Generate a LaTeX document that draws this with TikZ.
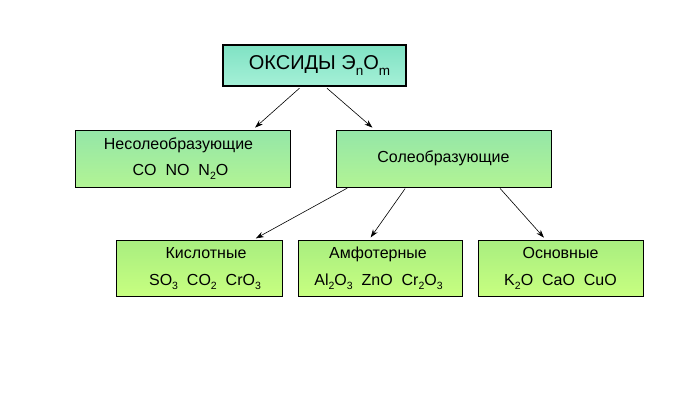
\documentclass[tikz,border=0pt]{standalone}
\usepackage{fontspec}
\setmainfont{Liberation Sans}
\usetikzlibrary{arrows.meta,calc}
\newcommand\lowsub[1]{\raisebox{-4pt}{\fontsize{10.5}{11}\selectfont #1}}
\newcommand\topsub[1]{\raisebox{-5.5pt}{\fontsize{13.5}{14}\selectfont #1}}
\newcommand\nudge[1]{\hspace*{#1}}
\definecolor{aquaA}{RGB}{128,226,196}
\definecolor{aquaB}{RGB}{165,240,215}
\definecolor{midA}{RGB}{148,230,168}
\definecolor{midB}{RGB}{178,244,148}
\definecolor{lowA}{RGB}{168,238,128}
\definecolor{lowB}{RGB}{200,255,128}
\tikzset{
  topbox/.style={draw=black, line width=2.4pt, top color=aquaA, bottom color=aquaB,
    minimum width=183pt, minimum height=41pt, inner sep=0pt,
    font=\fontsize{20}{22}\selectfont},
  midbox/.style={draw=black, line width=0.8pt, top color=midA, bottom color=midB,
    minimum width=215pt, minimum height=57pt, inner sep=0pt, align=center,
    font=\fontsize{16}{26}\selectfont},
  lowbox/.style={draw=black, line width=0.8pt, top color=lowA, bottom color=lowB,
    minimum width=165pt, minimum height=56.5pt, inner sep=0pt, align=center,
    font=\fontsize{16}{27}\selectfont},
  conn/.style={line width=0.6pt, -{Stealth[length=8pt,width=5.5pt]},
    shorten <=1.5pt, shorten >=3pt}
}
\begin{document}
\begin{tikzpicture}[x=1pt,y=-1pt]
\useasboundingbox[fill=white] (0,0) rectangle (700,400);
\node[topbox] (top) at (314.5,65.5) {\nudge{10pt}ОКСИДЫ Э\topsub{n}O\topsub{m}};
\node[midbox] (nes) at (182.5,158.5) {\nudge{-8pt}Несолеобразующие\\\nudge{-4pt}CO~~NO~~N\lowsub{2}O};
\node[midbox] (sol) at (443.5,158.5) {Солеобразующие};
\node[lowbox, minimum width=166pt] (kis) at (199,268.5) {\nudge{14pt}Кислотные\\\nudge{12pt}SO\lowsub{3}~~CO\lowsub{2}~~CrO\lowsub{3}};
\node[lowbox, minimum width=164pt] (amf) at (380,268.5) {\nudge{-4pt}Амфотерные\\\nudge{-3pt}Al\lowsub{2}O\lowsub{3}~~ZnO~~Cr\lowsub{2}O\lowsub{3}};
\node[lowbox] (osn) at (560.5,268.5) {Основные\\K\lowsub{2}O~~CaO~~CuO};
\draw[conn] ($(top.south west)!0.425!(top.south east)$) -- ($(nes.north west)!0.826!(nes.north east)$);
\draw[conn] ($(top.south west)!0.561!(top.south east)$) -- ($(sol.north west)!0.181!(sol.north east)$);
\draw[conn] ($(sol.south west)!0.06!(sol.south east)$) -- ($(kis.north west)!0.825!(kis.north east)$);
\draw[conn] ($(sol.south west)!0.326!(sol.south east)$) -- ($(amf.north west)!0.433!(amf.north east)$);
\draw[conn] ($(sol.south west)!0.758!(sol.south east)$) -- ($(osn.north west)!0.412!(osn.north east)$);
\end{tikzpicture}
\end{document}
